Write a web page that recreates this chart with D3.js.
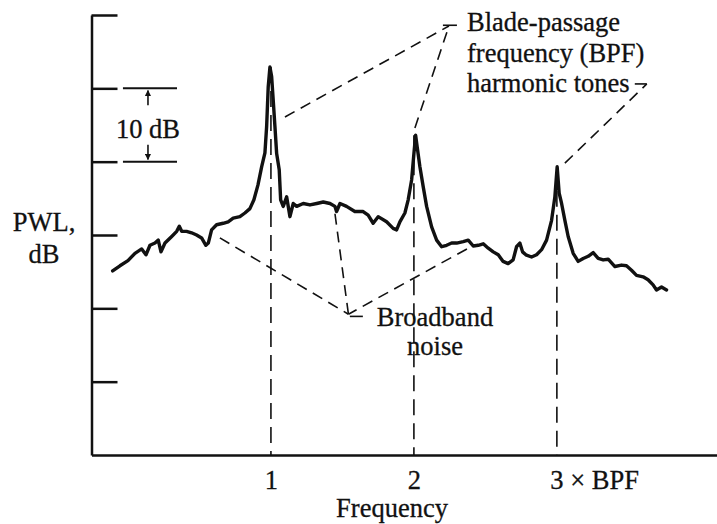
<!DOCTYPE html>
<meta charset="utf-8">
<style>
    body { margin: 0; background: #fff; }
    svg text { font-family: "Liberation Serif", "Times New Roman", serif; fill: #111; stroke: #111; stroke-width: 0.3px; }
    .curve { fill: none; stroke: #111; stroke-width: 3.4px; stroke-linejoin: round; stroke-linecap: round; }
    .axis path, .axis line { stroke: #111; stroke-width: 2.5px; }
    .lead { fill: none; stroke: #111; stroke-width: 1.6px; stroke-dasharray: 11,7; }
    .vert { fill: none; stroke: #111; stroke-width: 1.6px; stroke-dasharray: 16,8; }
    .solid { fill: none; stroke: #111; stroke-width: 1.6px; }
</style>
<svg width="717" height="524"></svg>
<script src="https://d3js.org/d3.v7.min.js"></script>
<script>
    // frequency in multiples of BPF, sound power level in dB (relative)
    const freq = [-0.107, -0.056, 0.000, 0.049, 0.096, 0.126, 0.154, 0.189, 0.212, 0.231,
        0.259, 0.306, 0.341, 0.359, 0.376, 0.410, 0.445, 0.480, 0.515, 0.545,
        0.562, 0.585, 0.620, 0.666, 0.701, 0.736, 0.783, 0.818, 0.853, 0.881,
        0.909, 0.935, 0.958, 0.970, 0.981, 0.993, 1.005, 1.016, 1.028, 1.040,
        1.058, 1.068, 1.086, 1.110, 1.133, 1.156, 1.180, 1.226, 1.273, 1.320,
        1.366, 1.413, 1.448, 1.459, 1.483, 1.529, 1.587, 1.645, 1.680, 1.715,
        1.750, 1.809, 1.855, 1.879, 1.902, 1.937, 1.960, 1.984, 2.000, 2.012,
        2.023, 2.042, 2.065, 2.089, 2.124, 2.159, 2.194, 2.229, 2.264, 2.299,
        2.345, 2.380, 2.415, 2.450, 2.485, 2.520, 2.555, 2.590, 2.624, 2.659,
        2.694, 2.718, 2.741, 2.760, 2.783, 2.823, 2.858, 2.893, 2.928, 2.963,
        2.986, 3.002, 3.016, 3.033, 3.056, 3.079, 3.114, 3.149, 3.184, 3.219,
        3.254, 3.289, 3.324, 3.359, 3.406, 3.452, 3.487, 3.522, 3.557, 3.603,
        3.638, 3.673, 3.697, 3.732, 3.767];
    const level = [25.1, 25.8, 26.5, 27.5, 28.1, 27.3, 28.6, 28.9, 29.3, 27.7,
        28.9, 29.8, 30.5, 31.2, 30.5, 30.5, 30.3, 30.0, 29.6, 28.6,
        28.9, 30.7, 31.4, 31.6, 31.8, 32.3, 32.5, 33.0, 33.6, 34.8,
        36.8, 39.3, 41.2, 44.8, 50.2, 52.9, 51.6, 48.4, 44.8, 41.1,
        38.9, 34.8, 33.9, 35.2, 32.5, 34.3, 33.9, 34.3, 34.1, 34.3,
        34.5, 34.3, 33.9, 33.2, 34.3, 33.9, 33.2, 33.2, 32.7, 31.6,
        32.5, 31.8, 30.9, 30.7, 31.8, 33.0, 34.8, 37.5, 41.1, 43.6,
        42.0, 39.3, 36.6, 33.9, 31.1, 29.3, 28.4, 28.6, 28.9, 28.9,
        29.1, 29.3, 28.5, 28.6, 28.8, 28.2, 27.7, 27.3, 26.4, 26.1,
        26.6, 28.4, 28.9, 27.7, 27.3, 27.0, 27.3, 28.0, 29.3, 32.0,
        35.2, 39.3, 35.7, 34.3, 32.0, 29.8, 27.5, 26.4, 26.8, 27.1,
        27.6, 26.8, 26.6, 26.7, 25.7, 25.9, 25.8, 25.2, 24.5, 24.3,
        23.9, 23.2, 22.5, 22.9, 22.5];

    const harmonics = [1, 2, 3];
    const harmonicPeaks = [52.9, 43.6, 39.3];
    const harmonicLabels = ["1", "2", "3 \u00d7 BPF"];
    const levelTicks = [10, 20, 30, 40, 50, 60];

    // leader lines for the annotations, [freq, level] pairs
    const toneLeaders = [
        [[1.098, 46.1], [2.245, 58.5]],
        [[2.007, 44.6], [2.245, 58.5]],
        [[3.056, 39.8], [3.629, 50.6]]
    ];
    const toneStubs = [
        [[2.203, 58.6], [2.301, 58.6]],
        [[3.545, 50.6], [3.629, 50.6]]
    ];
    const noiseLeaders = [
        [[0.643, 29.6], [1.542, 19.2]],
        [[1.448, 32.9], [1.542, 19.2]],
        [[2.371, 28.1], [1.542, 19.2]]
    ];
    const noiseStub = [[1.552, 18.9], [1.643, 18.9]];
    const toneText = ["Blade-passage", "frequency (BPF)", "harmonic tones"];
    const noiseText = ["Broadband", "noise"];

    // 10 dB bracket
    const bracketLevels = [40, 50];
    const bracketFreq = [-0.035, 0.343];
    const bracketArrowFreq = 0.14;

    var svg = d3.select("svg");

    var x = d3.scaleLinear().domain([-0.255, 4.12]).range([91.5, 717]),
        y = d3.scaleLinear().domain([0, 60]).range([455, 15]);

    var defs = svg.append("defs");
    defs.append("marker")
        .attr("id", "head")
        .attr("viewBox", "0 0 10 10")
        .attr("refX", 9).attr("refY", 5)
        .attr("markerWidth", 4).attr("markerHeight", 4)
        .attr("orient", "auto")
        .append("path")
        .attr("d", "M0,0L10,5L0,10z")
        .attr("fill", "#111");

    // vertical dashed lines at harmonics, behind the curve
    svg.selectAll(".vert")
        .data(harmonics)
        .enter().append("line")
        .attr("class", "vert")
        .attr("x1", d => x(d)).attr("x2", d => x(d))
        .attr("y1", (d, i) => y(harmonicPeaks[i]))
        .attr("y2", y(0));

    svg.append("g")
        .attr("class", "axis axis--y")
        .attr("transform", "translate(" + x(-0.255) + ",0)")
        .call(d3.axisLeft(y).tickValues(levelTicks).tickSize(-26).tickSizeOuter(0).tickFormat(""));

    var xAxis = svg.append("g")
        .attr("class", "axis axis--x")
        .attr("transform", "translate(0," + y(0) + ")")
        .call(d3.axisBottom(x).tickValues(harmonics).tickSize(0).tickSizeOuter(0).tickPadding(10)
            .tickFormat((d, i) => harmonicLabels[i]));

    xAxis.selectAll("text")
        .attr("font-size", "26.5px")
        .attr("dy", "0.9em")
        .style("font-family", "'Liberation Serif', serif");
    xAxis.selectAll(".tick").filter(d => d === 3).select("text")
        .attr("text-anchor", "start")
        .attr("x", -7);

    var line = d3.line()
        .curve(d3.curveLinear)
        .x((d, i) => x(freq[i]))
        .y((d, i) => y(level[i]));

    svg.append("path")
        .datum(freq)
        .attr("class", "curve")
        .attr("d", line);

    var seg = d3.line().x(d => x(d[0])).y(d => y(d[1]));

    svg.selectAll(".tone-lead")
        .data(toneLeaders)
        .enter().append("path")
        .attr("class", "lead tone-lead")
        .attr("d", seg);

    svg.selectAll(".tone-stub")
        .data(toneStubs)
        .enter().append("path")
        .attr("class", "solid tone-stub")
        .attr("d", seg);

    svg.selectAll(".noise-lead")
        .data(noiseLeaders)
        .enter().append("path")
        .attr("class", "lead noise-lead")
        .attr("d", seg);

    svg.append("path")
        .attr("class", "solid")
        .attr("d", seg(noiseStub));

    // 10 dB bracket
    svg.selectAll(".bracket")
        .data(bracketLevels)
        .enter().append("line")
        .attr("class", "solid bracket")
        .style("stroke-width", "2px")
        .attr("x1", x(bracketFreq[0])).attr("x2", x(bracketFreq[1]))
        .attr("y1", d => y(d)).attr("y2", d => y(d));

    svg.append("line")
        .attr("class", "solid")
        .attr("x1", x(bracketArrowFreq)).attr("x2", x(bracketArrowFreq))
        .attr("y1", y(47.7)).attr("y2", y(49.7))
        .attr("marker-end", "url(#head)");
    svg.append("line")
        .attr("class", "solid")
        .attr("x1", x(bracketArrowFreq)).attr("x2", x(bracketArrowFreq))
        .attr("y1", y(42.3)).attr("y2", y(40.3))
        .attr("marker-end", "url(#head)");

    svg.append("text")
        .attr("x", x(bracketArrowFreq))
        .attr("y", y(45) + 13)
        .attr("text-anchor", "middle")
        .attr("font-size", "26.5px")
        .text("10 dB");

    svg.append("text")
        .attr("x", 467)
        .attr("font-size", "26.5px")
        .selectAll("tspan")
        .data(toneText)
        .enter().append("tspan")
        .attr("x", 467)
        .attr("y", (d, i) => 31 + i * 30.5)
        .text(d => d);

    svg.append("text")
        .attr("text-anchor", "middle")
        .attr("font-size", "26.5px")
        .selectAll("tspan")
        .data(noiseText)
        .enter().append("tspan")
        .attr("x", 435)
        .attr("y", (d, i) => 326 + i * 29)
        .text(d => d);

    // axis titles
    svg.append("text")
        .attr("text-anchor", "middle")
        .attr("font-size", "26.5px")
        .selectAll("tspan")
        .data(["PWL,", "dB"])
        .enter().append("tspan")
        .attr("x", 44)
        .attr("y", (d, i) => 231 + i * 32)
        .text(d => d);

    svg.append("text")
        .attr("x", 392)
        .attr("y", 517)
        .attr("text-anchor", "middle")
        .attr("font-size", "26.5px")
        .text("Frequency");
</script>
